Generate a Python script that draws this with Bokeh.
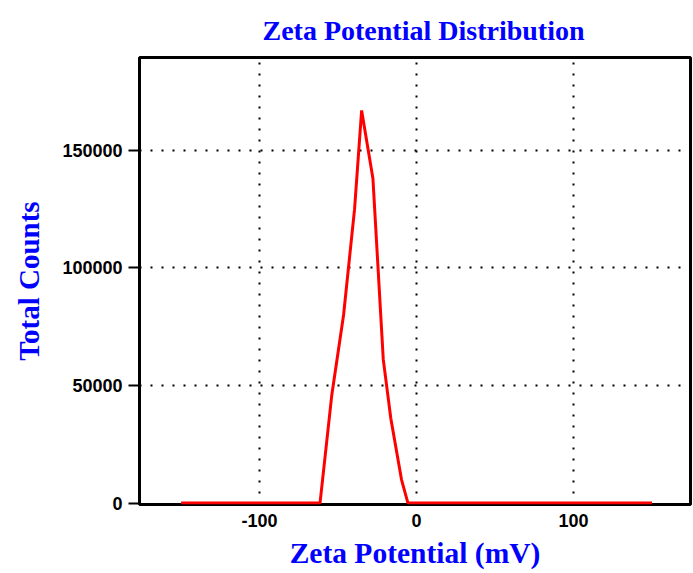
from bokeh.plotting import figure
from bokeh.models import FixedTicker, Range1d
from bokeh.embed import file_html
from bokeh.resources import INLINE

# Data
zeta_mv = [-150, -61.5, -54.0, -46.5, -39.5, -35.0, -27.8, -21.2, -16.4, -9.6, -5.5, 150]
total_counts = [0, 0, 46000, 80000, 125000, 167000, 138000, 61000, 36000, 10000, 0, 0]

x_ticks = [-100, 0, 100]
x_tick_labels = ["-100", "0", "100"]
y_ticks = [0, 50000, 100000, 150000]
y_tick_labels = ["0", "50000", "100000", "150000"]
y_grid_ticks = [50000, 100000, 150000]

title_text = "Zeta Potential Distribution"
x_label = "Zeta Potential (mV)"
y_label = "Total Counts"

BLUE = "#0000FF"
SERIF = "Liberation Serif"
SANS = "Liberation Sans"

p = figure(width=693, height=573, output_backend="svg", toolbar_location=None,
           x_range=Range1d(-176.5, 174.5), y_range=Range1d(-600, 189500),
           min_border_left=139, min_border_right=3, min_border_top=57, min_border_bottom=69,
           title=title_text)

p.title.text_font = SERIF
p.title.text_font_style = "bold"
p.title.text_font_size = "28px"
p.title.text_color = BLUE
p.title.align = "left"
p.title.offset = 123
p.title.text_line_height = 2.0
p.title.standoff = 24

p.line(zeta_mv, total_counts, line_color="#FF0000", line_width=3)

p.outline_line_color = "black"
p.outline_line_width = 3
p.outline_line_alpha = 1.0
p.background_fill_color = "white"
p.border_fill_color = "white"

# x axis
xa = p.xaxis[0]
xa.ticker = FixedTicker(ticks=x_ticks)
xa.major_label_overrides = dict(zip(x_ticks, x_tick_labels))
xa.axis_line_color = None
xa.major_tick_out = 0
xa.major_tick_in = 0
xa.minor_tick_out = 0
xa.minor_tick_in = 0
xa.major_label_text_font = SANS
xa.major_label_text_font_style = "bold"
xa.major_label_text_font_size = "18px"
xa.major_label_text_color = "black"
xa.major_label_standoff = 9
xa.axis_label = x_label
xa.axis_label_text_font = SERIF
xa.axis_label_text_font_style = "bold"
xa.axis_label_text_font_size = "29.5px"
xa.axis_label_text_color = BLUE
xa.axis_label_standoff = 7

# y axis
ya = p.yaxis[0]
ya.ticker = FixedTicker(ticks=y_ticks)
ya.major_label_overrides = dict(zip(y_ticks, y_tick_labels))
ya.axis_line_color = None
ya.major_tick_out = 11
ya.major_tick_in = 0
ya.major_tick_line_width = 2
ya.major_tick_line_color = "black"
ya.minor_tick_out = 0
ya.minor_tick_in = 0
ya.major_label_text_font = SANS
ya.major_label_text_font_style = "bold"
ya.major_label_text_font_size = "18px"
ya.major_label_text_color = "black"
ya.major_label_standoff = 6
ya.axis_label = y_label
ya.axis_label_text_font = SERIF
ya.axis_label_text_font_style = "bold"
ya.axis_label_text_font_size = "29px"
ya.axis_label_text_color = BLUE
ya.axis_label_standoff = 14

# grids
p.xgrid.ticker = FixedTicker(ticks=x_ticks)
p.ygrid.ticker = FixedTicker(ticks=y_grid_ticks)
for g in (p.xgrid[0], p.ygrid[0]):
    g.grid_line_color = "black"
    g.grid_line_width = 2
    g.grid_line_dash = "2 9"
    g.grid_line_alpha = 1.0

open("out.html", "w").write(file_html(p, INLINE))
